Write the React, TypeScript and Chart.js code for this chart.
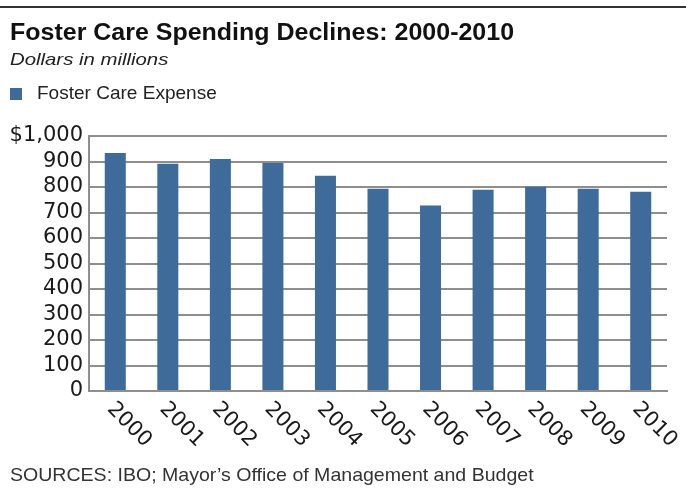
import React, { useEffect, useLayoutEffect, useRef, useState } from "react";
import { Chart, registerables } from "chart.js";

Chart.register(...registerables);

const years = ["2000", "2001", "2002", "2003", "2004", "2005", "2006", "2007", "2008", "2009", "2010"];
const fosterCareExpense = [933, 891, 910, 894, 844, 793, 727, 789, 801, 793, 781];
const yMin = 0;
const yMax = 1000;
const yStep = 100;

const TITLE = "Foster Care Spending Declines: 2000-2010";
const SUBTITLE = "Dollars in millions";
const SERIES_NAME = "Foster Care Expense";
const SOURCE = "SOURCES: IBO; Mayor\u2019s Office of Management and Budget";

const BAR_COLOR = "#3e6b9a";
const GRID_COLOR = "#8e8e8e";
const TICK_FONT = "DejaVu Sans";

function FitText(props: { text: string; left: number; top: number; width: number; style: React.CSSProperties }) {
  const ref = useRef<HTMLSpanElement>(null);
  const [sx, setSx] = useState(1);
  useLayoutEffect(() => {
    if (ref.current) {
      const w = ref.current.offsetWidth;
      if (w > 0) setSx(props.width / w);
    }
  }, [props.text, props.width]);
  return (
    <div style={{ position: "absolute", left: props.left, top: props.top, whiteSpace: "nowrap" }}>
      <span
        ref={ref}
        style={{
          display: "inline-block",
          whiteSpace: "nowrap",
          transform: `scaleX(${sx})`,
          transformOrigin: "left center",
          ...props.style,
        }}
      >
        {props.text}
      </span>
    </div>
  );
}

const rotatedXLabels = {
  id: "rotatedXLabels",
  afterDraw(chart: any) {
    const xScale = chart.scales.x;
    const ctx = chart.ctx;
    const labels: string[] = chart.data.labels;
    ctx.save();
    ctx.fillStyle = "#1a1a1a";
    ctx.font = `21px "${TICK_FONT}"`;
    ctx.textAlign = "left";
    ctx.textBaseline = "middle";
    labels.forEach((lab, i) => {
      const x = xScale.getPixelForTick(i);
      ctx.save();
      ctx.translate(x - 5, xScale.top + 15);
      ctx.rotate(Math.PI / 4);
      ctx.fillText(lab, 0, 0);
      ctx.restore();
    });
    ctx.restore();
  },
};

export default function App() {
  const canvasRef = useRef<HTMLCanvasElement>(null);

  useEffect(() => {
    if (!canvasRef.current) return;
    const chart = new Chart(canvasRef.current, {
      type: "bar",
      data: {
        labels: years,
        datasets: [
          {
            label: SERIES_NAME,
            data: fosterCareExpense,
            backgroundColor: BAR_COLOR,
            borderWidth: 0,
            barPercentage: 0.4,
            categoryPercentage: 1,
          },
        ],
      },
      options: {
        animation: false,
        responsive: false,
        devicePixelRatio: 1,
        layout: { padding: { left: 0, top: 136, right: 19, bottom: 0 } },
        plugins: {
          legend: { display: false },
          title: { display: false },
          tooltip: { enabled: false },
        },
        scales: {
          x: {
            grid: { display: false },
            border: { display: true, color: GRID_COLOR, width: 2 },
            ticks: { display: false },
            afterFit: (s: any) => {
              s.height = 100;
            },
          },
          y: {
            min: yMin,
            max: yMax,
            grid: { color: GRID_COLOR, lineWidth: 2, drawTicks: false },
            border: { display: true, color: GRID_COLOR, width: 2 },
            ticks: {
              stepSize: yStep,
              autoSkip: false,
              padding: 6,
              color: "#1a1a1a",
              font: { family: TICK_FONT, size: 21 },
              callback: (v: any) => (Number(v) === yMax ? "$" + Number(v).toLocaleString("en-US") : String(v)),
            },
            afterFit: (s: any) => {
              s.width = 89;
            },
          },
        },
      },
      plugins: [rotatedXLabels],
    });
    return () => chart.destroy();
  }, []);

  return (
    <div style={{ position: "absolute", left: 0, top: 0, width: 686, height: 491, background: "#fff", overflow: "hidden" }}>
      <div style={{ position: "absolute", left: 0, top: 6, width: 686, height: 2, background: "#333" }} />
      <canvas ref={canvasRef} width={686} height={491} style={{ position: "absolute", left: 0, top: 0, width: 686, height: 491 }} />
      <FitText
        text={TITLE}
        left={10}
        top={21}
        width={504}
        style={{ fontFamily: "Liberation Sans", fontWeight: "bold", fontSize: 23, lineHeight: "23px", color: "#111" }}
      />
      <FitText
        text={SUBTITLE}
        left={10}
        top={51}
        width={158}
        style={{ fontFamily: "Liberation Sans", fontStyle: "italic", fontSize: 17, lineHeight: "17px", color: "#222" }}
      />
      <div style={{ position: "absolute", left: 10, top: 88, width: 12, height: 12, background: BAR_COLOR }} />
      <FitText
        text={SERIES_NAME}
        left={37}
        top={84}
        width={180}
        style={{ fontFamily: "Liberation Sans", fontSize: 18.5, lineHeight: "18.5px", color: "#222" }}
      />
      <FitText
        text={SOURCE}
        left={10}
        top={466}
        width={524}
        style={{ fontFamily: "Liberation Sans", fontSize: 18.5, lineHeight: "18.5px", color: "#333" }}
      />
    </div>
  );
}
